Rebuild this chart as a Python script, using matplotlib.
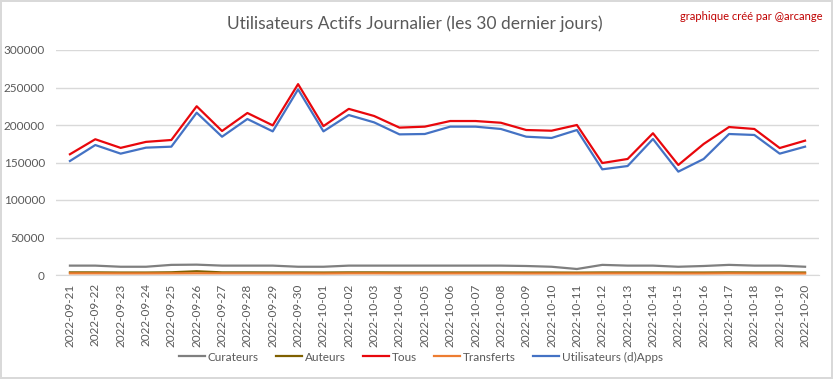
import matplotlib
matplotlib.use('Agg')
import matplotlib.pyplot as plt
import numpy as np

# Daily active users
dates = ['2022-09-21', '2022-09-22', '2022-09-23', '2022-09-24', '2022-09-25',
         '2022-09-26', '2022-09-27', '2022-09-28', '2022-09-29', '2022-09-30',
         '2022-10-01', '2022-10-02', '2022-10-03', '2022-10-04', '2022-10-05',
         '2022-10-06', '2022-10-07', '2022-10-08', '2022-10-09', '2022-10-10',
         '2022-10-11', '2022-10-12', '2022-10-13', '2022-10-14', '2022-10-15',
         '2022-10-16', '2022-10-17', '2022-10-18', '2022-10-19', '2022-10-20']

curateurs = [12500, 12500, 11000, 11000, 13500, 13800, 12500, 12500, 12500, 11000,
             11000, 12500, 12500, 12500, 12500, 12500, 12500, 12500, 12000, 11000,
             8000, 13500, 12500, 12500, 11000, 12000, 13500, 12500, 12500, 11000]
auteurs = [3500, 3500, 3300, 3300, 3600, 5000, 3500, 3500, 3400, 3400,
           3300, 3500, 3500, 3400, 3400, 3400, 3400, 3400, 3300, 3300,
           3200, 3400, 3400, 3400, 3300, 3300, 3500, 3400, 3400, 3300]
tous = [161000, 181000, 169500, 177500, 180000, 225000, 192000, 216000, 199500, 254500,
        198500, 221500, 212000, 196500, 197800, 205300, 205300, 203000, 193300, 192400,
        200000, 149300, 154700, 189000, 146700, 174700, 197300, 194700, 169300, 179100]
transferts = [2200, 2200, 2100, 2100, 2200, 2300, 2200, 2200, 2100, 2100,
              2000, 2200, 2200, 2100, 2100, 2100, 2100, 2100, 2000, 2000,
              2000, 2100, 2100, 2100, 2000, 2000, 2200, 2100, 2100, 2000]
apps = [152000, 173300, 161800, 169800, 171100, 216400, 184400, 208000, 191500, 247500,
        191500, 213300, 203500, 187500, 188000, 197800, 197800, 194700, 184400, 182700,
        193300, 140900, 145300, 181300, 137800, 154700, 188000, 186700, 161800, 171100]

series = [('Curateurs', curateurs, '#7f7f7f', 1.6),
          ('Auteurs', auteurs, '#7f6000', 1.6),
          ('Tous', tous, '#e8070c', 1.6),
          ('Transferts', transferts, '#ed7d31', 1.6),
          ('Utilisateurs (d)Apps', apps, '#4472c4', 1.6)]

plt.rcParams['font.family'] = ['Lato', 'DejaVu Sans']
text_col = '#595959'

fig = plt.figure(figsize=(8.33, 3.79), dpi=100)
fig.patch.set_edgecolor('#d9d9d9')
fig.patch.set_linewidth(1.5)
ax = fig.add_axes([56/833, 1 - 275/379, (819 - 56)/833, 225/379])

x = np.arange(len(dates))
for label, vals, col, lw in series:
    ax.plot(x, vals, color=col, lw=lw, label=label)

ax.set_xlim(-0.55, len(dates) - 0.45)
ax.set_ylim(0, 300000)
ax.set_yticks(np.arange(0, 300001, 50000))
ax.set_yticklabels([str(v) for v in range(0, 300001, 50000)])
ax.set_xticks(x)
ax.set_xticklabels(dates, rotation=90)
ax.grid(axis='y', color='#d9d9d9', lw=1)
ax.set_axisbelow(True)
for s in ['top', 'right', 'left']:
    ax.spines[s].set_visible(False)
ax.spines['bottom'].set_color('#d9d9d9')
ax.tick_params(length=0, colors=text_col, labelsize=8.5)
ax.tick_params(axis='x', pad=6)
ax.tick_params(axis='y', pad=8)

fig.text(0.4975, 0.938, 'Utilisateurs Actifs Journalier (les 30 dernier jours)',
         ha='center', va='center', fontsize=12.5, color=text_col)
fig.text(0.987, 0.957, 'graphique créé par @arcange', ha='right', va='center',
         fontsize=8, color='#c00000')

fig.legend(loc='center', bbox_to_anchor=(0.505, 0.058), ncol=5, frameon=False,
           fontsize=8.5, labelcolor=text_col, handlelength=2.2, handletextpad=0.25,
           columnspacing=1.45)

fig.savefig('out.png', dpi=100)
